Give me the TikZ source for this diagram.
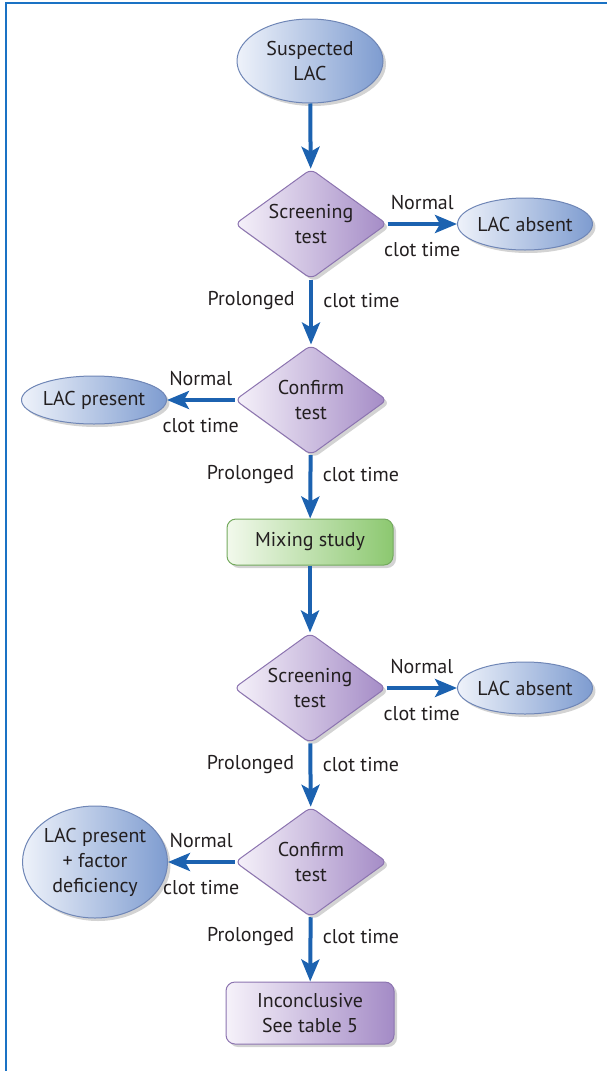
\documentclass[tikz,border=0pt]{standalone}
\usepackage{fontspec}
\setmainfont{PT Sans}
\usepackage{tikz}
\usetikzlibrary{arrows.meta}
\usetikzlibrary{shapes,shadows}
\definecolor{framecol}{HTML}{1A72C4}
\definecolor{flowblue}{HTML}{1C62B0}
\definecolor{ovalline}{HTML}{6F86B6}
\definecolor{ovalleft}{HTML}{EEF2FA}
\definecolor{ovalright}{HTML}{7E9CD0}
\definecolor{testline}{HTML}{8C74B0}
\definecolor{testleft}{HTML}{F6F2FA}
\definecolor{testright}{HTML}{A48BC6}
\definecolor{mixline}{HTML}{74AA5E}
\definecolor{mixleft}{HTML}{F2F9EC}
\definecolor{mixright}{HTML}{8CC870}
\definecolor{textcol}{HTML}{231F20}
\tikzstyle{outcome}=[ellipse,draw=ovalline,line width=1pt,left color=ovalleft,right color=ovalright,drop shadow={shadow xshift=3pt,shadow yshift=-3pt,opacity=.35},align=center,inner sep=0pt]
\tikzstyle{test}=[diamond,draw=testline,line width=1pt,rounded corners=6pt,left color=testleft,right color=testright,drop shadow={shadow xshift=3pt,shadow yshift=-3pt,opacity=.35},align=center,inner sep=0pt,aspect=1.38,minimum width=152pt,minimum height=110pt]
\tikzstyle{study}=[rectangle,rounded corners=9pt,line width=1pt,drop shadow={shadow xshift=3pt,shadow yshift=-3pt,opacity=.35},align=center,minimum width=166pt]
\tikzstyle{flow}=[line width=4pt,draw=flowblue,-{Stealth[width=18pt,length=22pt,inset=5pt]}]

\begin{document}
\begin{tikzpicture}[x=1pt,y=-1pt,font=\fontsize{20}{25}\selectfont,text=textcol]
\useasboundingbox (0,0) rectangle (607,1071);
\draw[framecol,line width=2pt] (6,1071) -- (6,3) -- (607,3);

% boxes
\node [outcome,minimum width=146pt,minimum height=84pt] (susp) at (310,61) {Suspected\\LAC};
\node [test] (scrA) at (311,224) {Screening\\test};
\node [outcome,minimum width=130pt,minimum height=52pt] (absA) at (525,224) {LAC absent};
\node [test] (confA) at (311,400) {Confirm\\test};
\node [outcome,minimum width=136pt,minimum height=48pt] (presA) at (94,400) {LAC present};
\node [study,draw=mixline,left color=mixleft,right color=mixright,minimum height=46pt] (mix) at (310,542) {Mixing study};
\node [test] (scrB) at (310,688) {Screening\\test};
\node [outcome,minimum width=130pt,minimum height=52pt] (absB) at (525,688) {LAC absent};
\node [test] (confB) at (311,862) {Confirm\\test};
\node [outcome,minimum width=144pt,minimum height=112pt] (presB) at (95,862) {LAC present\\+ factor\\deficiency};
\node [study,draw=testline,left color=testleft,right color=testright,minimum width=168pt,minimum height=62pt] (incl) at (310,1013) {Inconclusive\\See table 5};

% arrows
\draw [flow] (susp) -- (scrA);
\draw [flow] (scrA) -- node[above=9pt]{Normal} node[below=13pt]{clot time} (absA);
\draw [flow] (scrA) -- node[pos=.33,left=11pt]{Prolonged} node[pos=.33,right=7pt]{clot time} (confA);
\draw [flow] (confA) -- node[above=9pt]{Normal} node[below=13pt]{clot time} (presA);
\draw [flow] (confA) -- node[pos=.3,left=11pt]{Prolonged} node[pos=.3,right=7pt]{clot time} (mix);
\draw [flow] (mix) -- (scrB);
\draw [flow] (scrB) -- node[above=9pt]{Normal} node[below=13pt]{clot time} (absB);
\draw [flow] (scrB) -- node[pos=.33,left=11pt]{Prolonged} node[pos=.33,right=7pt]{clot time} (confB);
\draw [flow] (confB) -- node[above=9pt]{Normal} node[below=13pt]{clot time} (presB);
\draw [flow] (confB) -- node[pos=.3,left=11pt]{Prolonged} node[pos=.3,right=7pt]{clot time} (incl);
\end{tikzpicture}
\end{document}
